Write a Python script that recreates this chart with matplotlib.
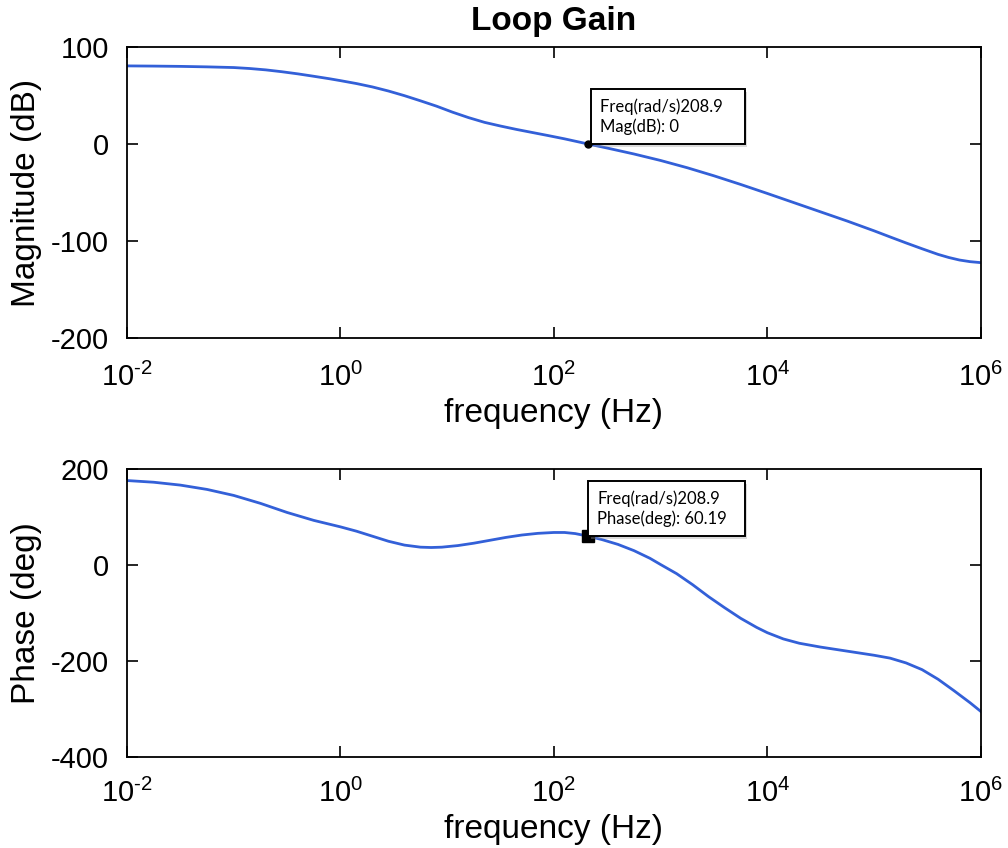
import numpy as np
import matplotlib
matplotlib.use("Agg")
import matplotlib.pyplot as plt
from matplotlib.ticker import FixedLocator, FuncFormatter
import matplotlib.patheffects as pe

# ---- data ----
mag_exp = [-2.0, -1.75, -1.5, -1.25, -1.0, -0.85, -0.7, -0.55, -0.4, -0.25, -0.1, 0.0,
           0.15, 0.3, 0.45, 0.6, 0.75, 0.9, 1.05, 1.2, 1.35, 1.5, 1.65, 1.8, 1.95,
           2.1, 2.32, 2.5, 2.75, 3.0, 3.25, 3.5, 3.75, 4.0, 4.25, 4.5, 4.75, 5.0,
           5.15, 5.3, 5.45, 5.6, 5.7, 5.8, 5.9, 6.0]
mag_db = [80.5, 80.3, 80.0, 79.5, 78.8, 77.8, 76.4, 74.5, 72.3, 69.8, 67.2, 65.3,
          62.3, 58.8, 54.6, 49.8, 44.5, 39.0, 32.8, 27.2, 22.3, 18.5, 15.0, 11.8, 8.6,
          5.3, 0.0, -4.2, -10.3, -17.0, -24.5, -32.8, -41.7, -51.0, -60.5, -70.0, -79.5, -89.5,
          -95.8, -102.0, -108.0, -113.8, -117.0, -119.6, -121.3, -122.3]

ph_exp = [-2.0, -1.75, -1.5, -1.25, -1.0, -0.75, -0.5, -0.25, 0.0, 0.15, 0.3, 0.45,
          0.6, 0.75, 0.85, 0.95, 1.1, 1.25, 1.4, 1.55, 1.7, 1.85, 2.0, 2.1, 2.2,
          2.32, 2.45, 2.6, 2.75, 2.9, 3.0, 3.15, 3.3, 3.45, 3.6, 3.75, 3.9, 4.0,
          4.15, 4.3, 4.5, 4.75, 5.0, 5.15, 5.3, 5.45, 5.6, 5.75, 5.9, 6.0]
ph_deg = [176, 172.5, 166.5, 157.5, 145, 128.5, 109.5, 93, 79.5, 70.5, 60, 49.5,
          41.5, 37.2, 36.5, 37.2, 40.5, 45.5, 51.5, 57.5, 62.5, 66, 67.8, 67.8, 65.5,
          60.19, 53, 43, 30, 14, 1, -18, -41, -66, -89, -111, -130, -141,
          -154, -163, -171, -179.5, -188, -194, -204, -218, -238, -262, -287, -305]

marker_freq = 208.9
marker_mag = 0.0
marker_phase = 60.19

xtick_exp = [-2, 0, 2, 4, 6]
mag_ticks = [-200, -100, 0, 100]
ph_ticks = [-400, -200, 0, 200]

mag_f = 10.0 ** np.array(mag_exp)
ph_f = 10.0 ** np.array(ph_exp)

plt.rcParams['font.family'] = ['Liberation Sans', 'DejaVu Sans']
plt.rcParams['axes.unicode_minus'] = False
plt.rcParams['mathtext.fontset'] = 'custom'
plt.rcParams['mathtext.rm'] = 'Liberation Sans'
plt.rcParams['mathtext.default'] = 'regular'

LINE = '#3360d8'
fig = plt.figure(figsize=(10.08, 8.48), dpi=100)
ax1 = fig.add_axes([0.126, 0.6014, 0.847, 0.3432])
ax2 = fig.add_axes([0.126, 0.1073, 0.847, 0.3396])

def fmt(v, pos):
    e = int(round(np.log10(v)))
    s = ('\u2010%d' % (-e)) if e < 0 else '%d' % e
    return r'$10^{%s}$' % s

for ax, yt, lab, xpad in [(ax1, mag_ticks, 'Magnitude (dB)', 18),
                          (ax2, ph_ticks, 'Phase (deg)', 16)]:
    ax.set_xscale('log')
    ax.set_xlim(1e-2, 1e6)
    ax.set_ylim(yt[0], yt[-1])
    ax.xaxis.set_major_locator(FixedLocator([10.0 ** e for e in xtick_exp]))
    ax.xaxis.set_minor_locator(FixedLocator([]))
    ax.xaxis.set_major_formatter(FuncFormatter(fmt))
    ax.set_yticks(yt)
    ax.set_yticklabels([str(t) for t in yt])
    ax.tick_params(direction='in', length=8, width=1.2, top=True, right=True,
                   labelsize=21)
    ax.tick_params(axis='y', pad=13)
    ax.tick_params(axis='x', pad=xpad)
    for s in ax.spines.values():
        s.set_linewidth(1.3)
    ax.set_xlabel('frequency (Hz)', fontsize=24, labelpad=4)
    ax.set_ylabel(lab, fontsize=24, labelpad=6)

ax1.plot(mag_f, mag_db, color=LINE, lw=2.0)
ax2.plot(ph_f, ph_deg, color=LINE, lw=2.0)
ax1.set_title('Loop Gain', fontsize=24, fontweight='bold', pad=12)

ax1.plot([marker_freq], [marker_mag], 'o', color='black', ms=5, zorder=5)
ax2.plot([marker_freq], [marker_phase], 's', color='black', ms=8, zorder=5)

FS = 12.0
PAD = 0.55
bbox = dict(boxstyle='square,pad=%g' % PAD, fc='white', ec='black', lw=1.4)
shadow = [pe.withSimplePatchShadow(offset=(2, -2), shadow_rgbFace='0.6', alpha=0.35)]
off = PAD * FS
a1 = ax1.annotate('Freq(rad/s)%.1f   \nMag(dB): %g' % (marker_freq, marker_mag),
                  xy=(marker_freq, marker_mag), xytext=(off + 2, off), textcoords='offset points',
                  ha='left', va='bottom', fontsize=FS, family=['Lato', 'DejaVu Sans'],
                  bbox=bbox, linespacing=1.25, zorder=6)
a2 = ax2.annotate('Freq(rad/s)%.1f\nPhase(deg): %.2f  ' % (marker_freq, marker_phase),
                  xy=(marker_freq, marker_phase), xytext=(off, off), textcoords='offset points',
                  ha='left', va='bottom', fontsize=FS, family=['Lato', 'DejaVu Sans'],
                  bbox=bbox, linespacing=1.25, zorder=6)
for a in (a1, a2):
    a.get_bbox_patch().set_path_effects(shadow)

fig.savefig('out.png', dpi=100, facecolor='white')
